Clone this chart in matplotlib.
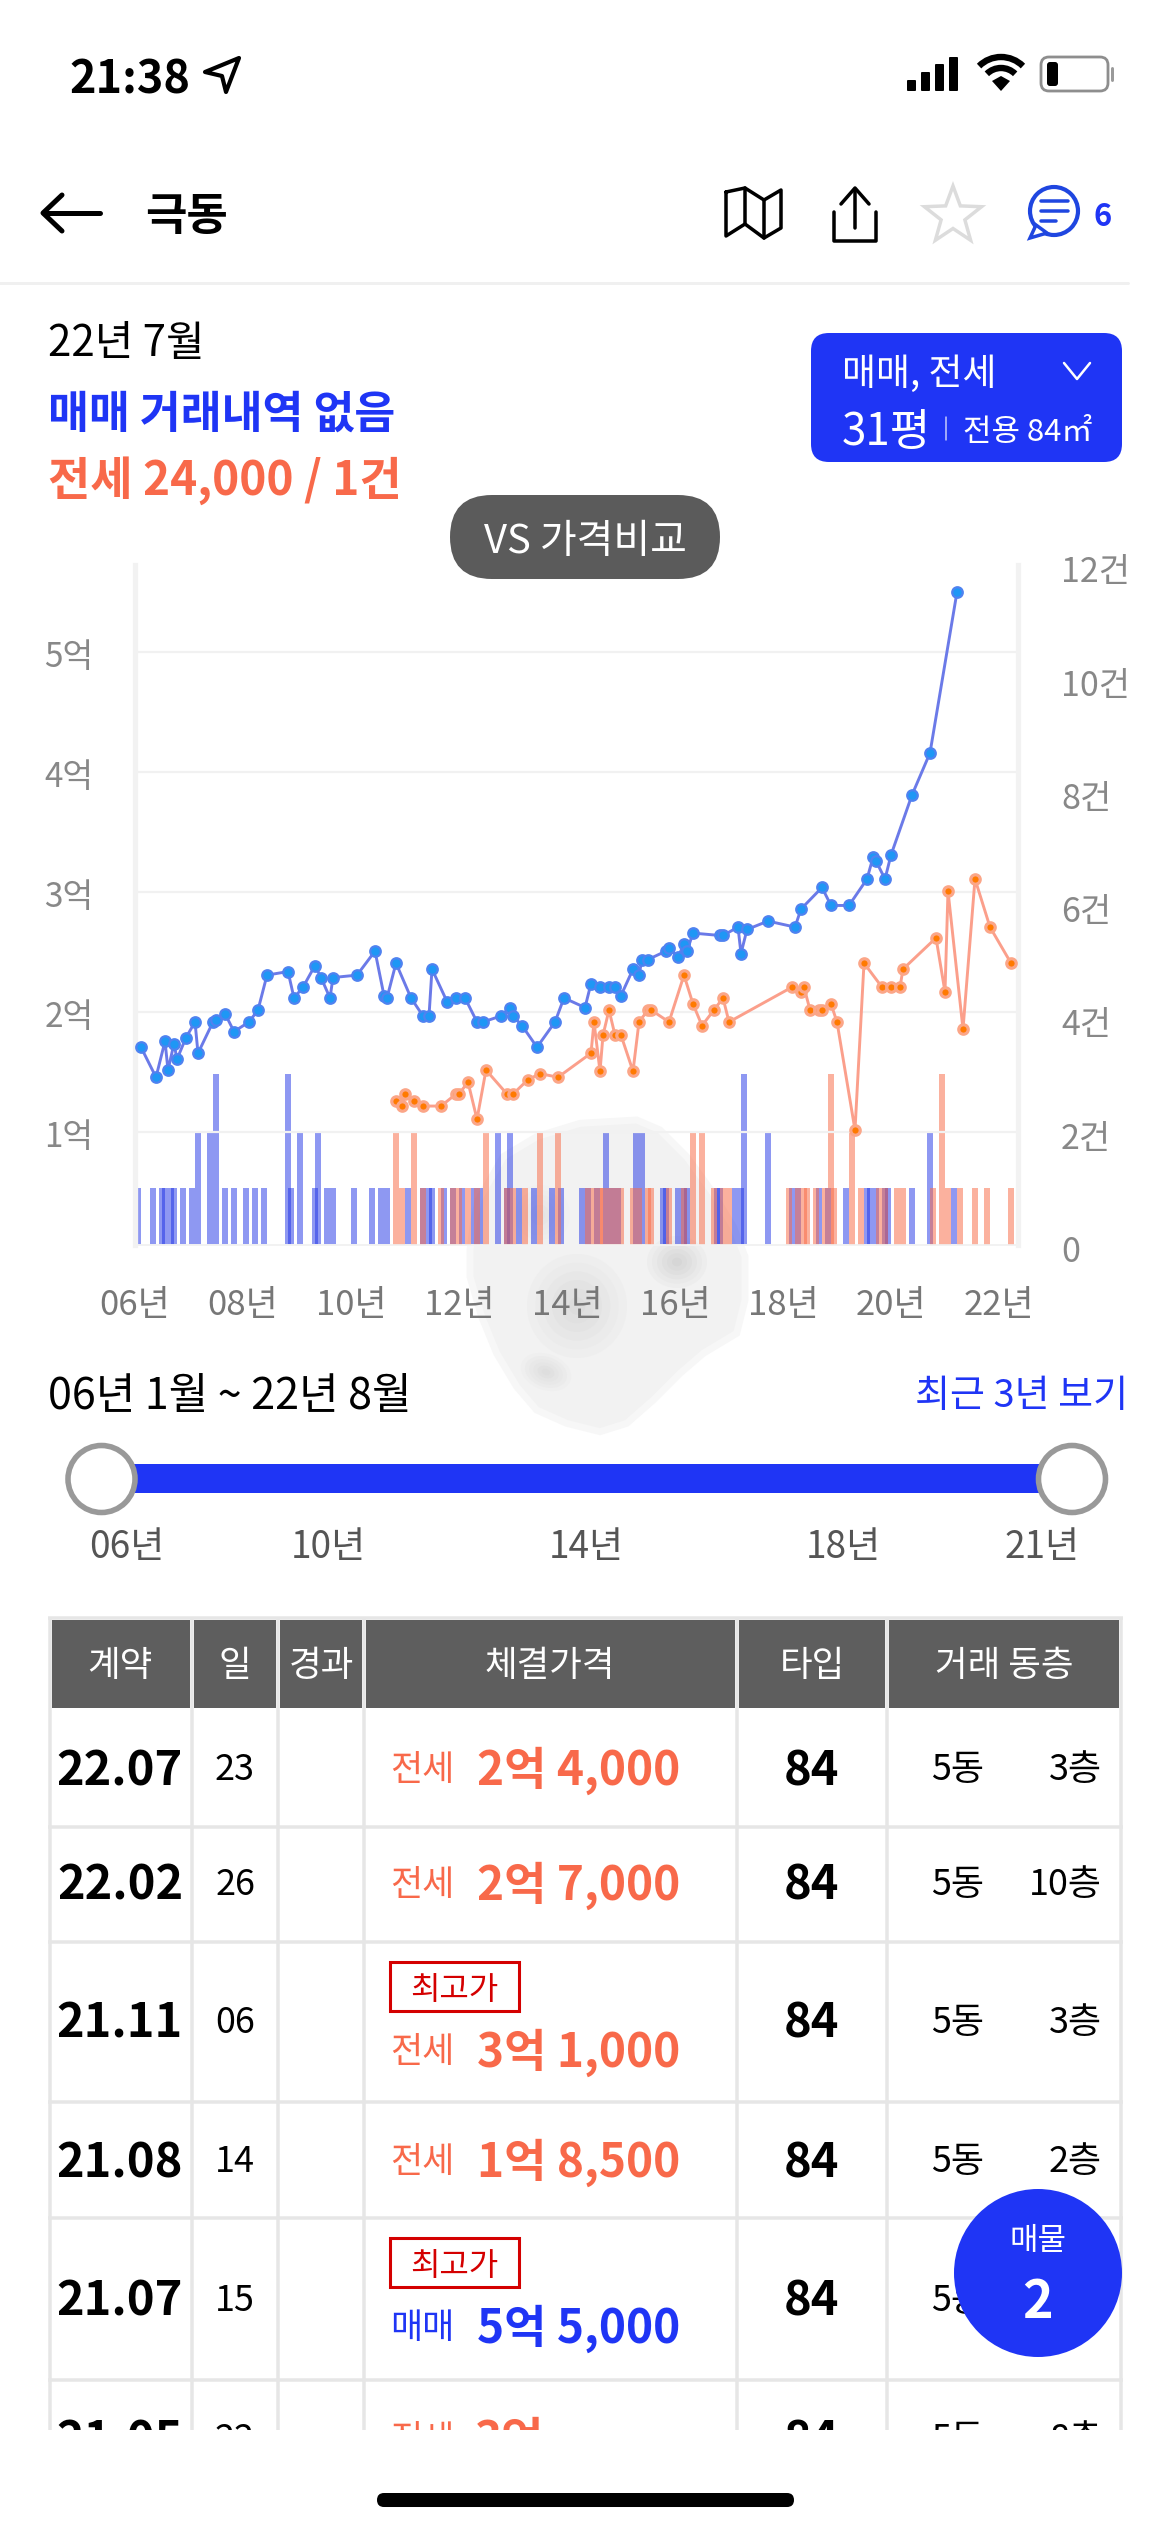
import numpy as np
import matplotlib
matplotlib.use('Agg')
import matplotlib.pyplot as plt
from matplotlib.patches import Rectangle, Circle, Ellipse, FancyBboxPatch, Polygon, Arc
from matplotlib.transforms import ScaledTranslation

plt.rcParams['font.family'] = ['Noto Sans CJK KR', 'DejaVu Sans']

# ---------- data (x = time slot on the chart's date axis, price in 억, n = trades) ----------
sale_x = [2,7,10,11,13,14,17,20,21,26,27,30,33,38,41,44,51,53,56,60,62,65,66,74,80,83,84,87,92,96,98,99,
          104,107,110,114,116,122,125,126,129,134,140,143,150,152,155,158,160,162,166,168,169,171,177,178,
          181,183,184,186,195,196,201,202,204,211,220,222,229,232,238,244,246,247,250,252,259,265,274]
sale_price = [1.71,1.46,1.76,1.52,1.74,1.61,1.79,1.92,1.66,1.92,1.94,1.99,1.84,1.92,2.02,2.31,2.34,2.12,2.21,
              2.39,2.29,2.12,2.29,2.31,2.51,2.14,2.12,2.41,2.12,1.97,1.97,2.36,2.09,2.12,2.12,1.92,1.92,1.97,
              2.04,1.97,1.89,1.71,1.92,2.12,2.04,2.24,2.21,2.21,2.21,2.14,2.36,2.31,2.44,2.44,2.51,2.54,
              2.46,2.57,2.51,2.66,2.64,2.64,2.71,2.49,2.69,2.76,2.71,2.86,3.04,2.89,2.89,3.11,3.29,3.26,
              3.11,3.31,3.81,4.16,5.50]
rent_x = [87,89,90,93,96,102,107,108,111,114,117,124,126,131,135,141,152,153,155,156,158,160,162,166,168,171,172,
          178,183,186,189,193,196,198,219,222,223,225,228,229,232,234,240,243,249,252,255,256,267,270,271,276,280,285,292]
rent_price = [1.26,1.22,1.32,1.26,1.22,1.22,1.32,1.32,1.42,1.11,1.52,1.32,1.32,1.44,1.49,1.46,1.66,1.92,1.51,1.81,
              2.02,1.81,1.81,1.51,1.92,2.02,2.02,1.92,2.31,2.07,1.89,2.02,2.12,1.92,2.21,2.17,2.21,2.02,2.02,2.02,
              2.07,1.92,1.02,2.41,2.21,2.21,2.21,2.36,2.62,2.17,3.01,1.86,3.11,2.71,2.41]
sale_bar_x = [1,6,9,10,12,13,16,19,21,25,27,30,33,37,40,43,51,52,55,60,61,64,66,73,79,82,84,91,96,98,99,103,106,109,
              113,115,121,124,125,128,133,139,142,149,151,154,157,159,161,167,169,176,177,181,183,184,194,195,200,
              202,203,211,219,221,228,231,237,244,245,247,250,251,259,265,273]
sale_bar_n = [1,1,1,1,1,1,1,1,2,2,3,1,1,1,1,1,3,1,2,1,2,1,1,1,1,1,1,1,1,1,1,1,1,1,
              1,1,2,1,2,1,1,1,1,1,1,1,2,1,1,2,2,1,1,1,1,1,1,1,1,
              1,3,2,1,1,1,1,1,1,1,1,1,1,1,2,1]
rent_bar_x = [87,89,93,96,102,106,108,111,114,117,124,126,130,135,141,151,153,155,156,158,160,162,166,168,171,172,
              178,183,186,189,193,196,198,218,221,223,224,227,230,232,233,239,242,248,250,254,256,266,269,271,275,280,284,292]
rent_bar_n = [2,1,2,1,1,1,1,1,1,2,1,1,1,2,2,1,1,1,1,1,1,1,1,1,1,1,
              1,1,2,2,1,1,1,1,1,1,1,1,1,3,1,2,1,1,1,1,1,1,3,1,1,1,1,1]

price_ticks = [1, 2, 3, 4, 5]
price_labels = ['1억', '2억', '3억', '4억', '5억']
count_ticks = [0, 2, 4, 6, 8, 10, 12]
count_labels = ['0', '2건', '4건', '6건', '8건', '10건', '12건']
year_ticks = [0, 36, 72, 108, 144, 180, 216, 252, 288]
year_labels = ['06년', '08년', '10년', '12년', '14년', '16년', '18년', '20년', '22년']

table_header = ['계약', '일', '경과', '체결가격', '타입', '거래 동층']
table_dates = ['22.07', '22.02', '21.11', '21.08', '21.07', '21.05']
table_days = ['23', '26', '06', '14', '15', '22']
table_kinds = ['전세', '전세', '전세', '전세', '매매', '전세']
table_prices = ['2억 4,000', '2억 7,000', '3억 1,000', '1억 8,500', '5억 5,000', '3억']
table_high = [False, False, True, False, True, False]
table_dong = ['5동'] * 6
table_floor = ['3층', '10층', '3층', '2층', '', '8층']

BLUE = '#1f35f5'
ORANGE = '#f8694a'

W, H = 1170, 2532
fig = plt.figure(figsize=(W / 100, H / 100), dpi=100, facecolor='white')
ui = fig.add_axes([0, 0, 1, 1], zorder=0)
ui.set_xlim(0, W); ui.set_ylim(H, 0); ui.axis('off')

def T(x, y, s, px, color='black', ha='center', weight='normal', z=5, **kw):
    return ui.text(x, y, s, fontsize=px * 0.72, color=color, ha=ha, va='center_baseline',
                   fontweight=weight, zorder=z, **kw)

def L(xs, ys, color='black', px=3, z=5, **kw):
    ui.plot(xs, ys, color=color, lw=px * 0.72, zorder=z, solid_capstyle=kw.pop('cap', 'round'),
            solid_joinstyle='round', **kw)

def blob(cx, cy, rx, ry, dark, angle=0, steps=6):
    # soft-edged shadow on the sticker
    base = np.array([0xf2, 0xf2, 0xf2]) / 255
    dark = np.array(matplotlib.colors.to_rgb(dark))
    for k in range(steps):
        f = 1 - k / steps
        c = base + (dark - base) * (k + 1) / steps
        ui.add_patch(Ellipse((cx, cy), 2 * rx * f, 2 * ry * f, angle=angle, fc=c, ec='none', zorder=1.1 + k * 0.01))

# ---------- status bar ----------
T(69, 75, '21:38', 45, ha='left', weight='bold')
ui.add_patch(Polygon([[239, 58], [226, 92], [222, 76], [205, 72]], closed=True, fc='none', ec='black', lw=3, joinstyle='round', zorder=5))
for i, (x, top) in enumerate(zip([907, 921, 935, 949], [80, 72, 64, 57])):
    ui.add_patch(FancyBboxPatch((x + 1, top + 1), 7, 89 - top, boxstyle='round,pad=1', fc='black', ec='none', zorder=5))
for r in [31, 20]:
    ui.add_patch(Arc((1001, 88), 2 * r, 2 * r, theta1=225, theta2=315, lw=4.6, color='black', zorder=5))
ui.add_patch(Polygon([[1001, 91], [992, 81], [1001, 76], [1010, 81]], closed=True, fc='black', ec='none', zorder=5))
ui.add_patch(FancyBboxPatch((1044, 60), 61, 28, boxstyle='round,pad=3,rounding_size=8', fc='white', ec='#8e8e8e', lw=2, zorder=5))
ui.add_patch(FancyBboxPatch((1048, 63), 9, 22, boxstyle='round,pad=1,rounding_size=3', fc='black', ec='none', zorder=6))
L([1112, 1112], [68, 80], color='#9a9a9a', px=3)

# ---------- nav bar ----------
L([100, 44], [213, 213], px=5)
L([62, 43, 62], [195, 213, 231], px=5)
T(145, 212, '극동', 45, ha='left', weight='bold')
L([0, 1128], [283, 283], color='#f0f0f0', px=3)
# map
L([726, 726, 745, 764, 781, 781, 764, 745, 726], [192, 236, 224, 238, 228, 190, 200, 188, 192], px=3.5)
L([745, 745], [188, 224], px=3.5)
L([764, 764], [200, 238], px=3.5)
# upload
L([855, 855], [190, 228], px=3.5)
L([841, 855, 869], [204, 188, 204], px=3.5)
L([834, 834, 876, 876], [212, 241, 241, 212], px=3.5)
# star
ang = np.deg2rad(np.arange(0, 360, 36) - 90)
rad = np.array([30, 12.5] * 5)
ui.add_patch(Polygon(np.c_[953 + rad * np.cos(ang), 216 + rad * np.sin(ang)], closed=True, fc='white', ec='#dcdcdc', lw=2.5, zorder=5))
# chat
ui.add_patch(Circle((1054, 211), 24, fc='white', ec='#1f46e0', lw=3, zorder=5))
ui.add_patch(Polygon([[1030, 238], [1036, 225], [1047, 233]], closed=True, fc='white', ec='#1f46e0', lw=2.5, zorder=5))
for y_, x1 in zip([201, 211, 221], [1068, 1068, 1056]):
    L([1041, x1], [y_, y_], color='#1f46e0', px=3.5, z=6)
T(1103, 213, '6', 31, color='#1f35f5', weight='bold')

# ---------- summary ----------
T(48, 339, '22년 7월', 42, ha='left')
T(48, 410, '매매 거래내역 없음', 44.5, color=BLUE, ha='left', weight='bold')
T(48, 475, '전세 24,000 / 1건', 46, color=ORANGE, ha='left', weight='bold')
ui.add_patch(FancyBboxPatch((827, 349), 279, 97, boxstyle='round,pad=16,rounding_size=18', fc=BLUE, ec='none', zorder=4))
T(842, 370, '매매, 전세', 37, color='white', ha='left')
L([1064, 1077, 1090], [363, 379, 363], color='white', px=2.5)
T(842, 427, '31평', 44, color='white', ha='left')
L([946, 946], [417, 440], color='#c9cdfb', px=1.5)
T(963, 429, '전용 84㎡', 31, color='white', ha='left')
ui.add_patch(FancyBboxPatch((492, 537), 186, 0.01, boxstyle='round,pad=42,rounding_size=42', fc='#5b5b5b', ec='none', zorder=8))
T(585, 537, 'VS 가격비교', 40, color='white', z=9)

# ---------- dog sticker behind the chart ----------
dog = np.array([(150,450),(160,370),(175,300),(250,170),(350,110),(480,70),(650,60),(720,90),(800,170),(880,280),
                (940,380),(975,470),(975,600),(950,700),(850,760),(780,820),(700,900),(620,970),(540,995),(440,970),
                (350,930),(290,860),(230,760),(185,650),(150,530)], float) / 3 + [420, 1100]
ui.add_patch(Polygon(dog, closed=True, fc='#f2f2f2', ec='#f7f7f7', lw=5, zorder=1))
blob(577, 1306, 50, 52, '#dcdcdc')
blob(677, 1262, 30, 26, '#d6d6d6')
blob(546, 1372, 26, 18, '#dedede', angle=20)
blob(540, 1215, 30, 30, '#e4e4e4')

# ---------- chart ----------
AX_L, AX_R, AX_T, AX_B = 135, 1018, 550, 1245
rect = [AX_L / W, 1 - AX_B / H, (AX_R - AX_L) / W, (AX_B - AX_T) / H]
ax = fig.add_axes(rect, zorder=2, facecolor='none')
axc = ax.twinx()
axc.set_zorder(1); ax.set_zorder(2)
axc.patch.set_visible(False)
ax.set_xlim(0, (AX_R - AX_L) / 3)
ax.set_ylim(1 - 112.5 / 120.1, 5 + (652 - AX_T) / 120.1)
axc.set_ylim(0, (AX_B - AX_T) / 57)

axc.bar(sale_bar_x, sale_bar_n, width=2, color='#1e32e6', alpha=0.5, lw=0, zorder=2)
axc.bar(rent_bar_x, rent_bar_n, width=2, color='#f96a46', alpha=0.52, lw=0, zorder=3)
ax.plot(rent_x, rent_price, color='#fb9f8b', lw=2.1, marker='o', ms=6.8, mfc='#ff7a00', mec='#fba688', mew=2.3, zorder=4)
ax.plot(sale_x, sale_price, color='#6b7ae8', lw=2.1, marker='o', ms=7.6, mfc='#1e97f5', mec='#4f82f0', mew=1.6, zorder=5, clip_on=False)

ax.set_yticks(price_ticks, price_labels)
axc.set_yticks(count_ticks, count_labels)
ax.set_xticks(year_ticks, year_labels)
ax.grid(axis='y', color='#f1f1f1', lw=1.6, zorder=0)
ax.set_axisbelow(True)
ax.tick_params(axis='y', length=0, pad=30, labelsize=24, labelcolor='#888888')
ax.tick_params(axis='x', length=0, pad=31, labelsize=25, labelcolor='#777777')
axc.tick_params(axis='y', length=0, pad=31, labelsize=24.5, labelcolor='#888888')
for lab in ax.get_yticklabels():
    lab.set_transform(lab.get_transform() + ScaledTranslation(0, -0.01, fig.dpi_scale_trans))
for i, lab in enumerate(axc.get_yticklabels()):
    lab.set_transform(lab.get_transform() + ScaledTranslation(0, -(0.035 + 0.0035 * count_ticks[i]), fig.dpi_scale_trans))
for a in (ax, axc):
    a.spines['top'].set_visible(False)
    for side in ('left', 'right'):
        a.spines[side].set_color('#f2f2f2'); a.spines[side].set_linewidth(3.8)
    a.spines['bottom'].set_color('#f2f2f2'); a.spines['bottom'].set_linewidth(1.2)
ax.spines['left'].set_bounds(ax.get_ylim()[0], 5 + (652 - 565) / 120.1)
ax.spines['right'].set_bounds(ax.get_ylim()[0], 5 + (652 - 565) / 120.1)
axc.spines['left'].set_visible(False); axc.spines['right'].set_visible(False)

# ---------- range slider ----------
T(48, 1392, '06년 1월 ~ 22년 8월', 43, ha='left')
T(1128, 1392, '최근 3년 보기', 38, color=BLUE, ha='right')
ui.add_patch(Rectangle((101, 1464), 971, 29, fc=BLUE, ec='none', zorder=3))
for cx in (101.5, 1072):
    ui.add_patch(Circle((cx, 1479), 33.5, fc='white', ec='#999999', lw=4, zorder=4))
for x_, s_ in zip([127, 328, 586, 843, 1042], ['06년', '10년', '14년', '18년', '21년']):
    T(x_, 1543, s_, 37, color='#555555')

# ---------- table ----------
col_x = [50, 192, 278, 364, 737, 887, 1121]
row_y = [1709, 1827, 1942, 2102, 2218, 2380, 2498]
text_y = [1766, 1881, 2019, 2158, 2297, 2436]
head_x = [120, 235, 321, 550, 812, 1004]
GRID = '#e6e6e6'
for y_ in [1618] + row_y[1:-1]:
    L([48, 1123], [y_, y_], color=GRID, px=3.5, z=2, cap='butt')
for x_ in col_x:
    L([x_, x_], [1618, 2440], color=GRID, px=3.5, z=2, cap='butt')
for a_, b_, s_, c_ in zip(col_x[:-1], col_x[1:], table_header, head_x):
    ui.add_patch(Rectangle((a_ + 2, 1620), b_ - a_ - 4, 88, fc='#5e5e5e', ec='none', zorder=3))
    T(c_, 1662, s_, 35.5, color='white')
for i, y_ in enumerate(text_y):
    T(120, y_, table_dates[i], 47, weight='bold')
    T(235, y_, table_days[i], 36)
    c_ = BLUE if table_kinds[i] == '매매' else ORANGE
    py = y_
    if table_high[i]:
        top = row_y[i] + 20
        ui.add_patch(Rectangle((390, top), 129, 49, fc='white', ec='#d40000', lw=2.2, zorder=5))
        T(454.5, top + 25, '최고가', 32, color='#d40000', weight='normal')
        py = row_y[i] + 106
    T(390, py, table_kinds[i], 35, color=c_, ha='left')
    T(680 if i < 5 else 544, py, table_prices[i], 46, color=c_, ha='right', weight='bold')
    T(812, y_, '84', 47, weight='bold')
    T(958, y_, table_dong[i], 36)
    T(1102, y_, table_floor[i], 36, ha='right')
ui.add_patch(Rectangle((0, 2430), W, H - 2430, fc='white', ec='none', zorder=7))

# floating button + home bar
ui.add_patch(Circle((1038, 2273), 84, fc='#1f35f5', ec='none', zorder=8))
T(1038, 2238, '매물', 31, color='white', z=9)
T(1037, 2297, '2', 52, color='white', weight='bold', z=9)
ui.add_patch(FancyBboxPatch((384, 2500), 403, 0.01, boxstyle='round,pad=7,rounding_size=7', fc='black', ec='none', zorder=9))

fig.savefig('out.png', dpi=100, facecolor='white')
